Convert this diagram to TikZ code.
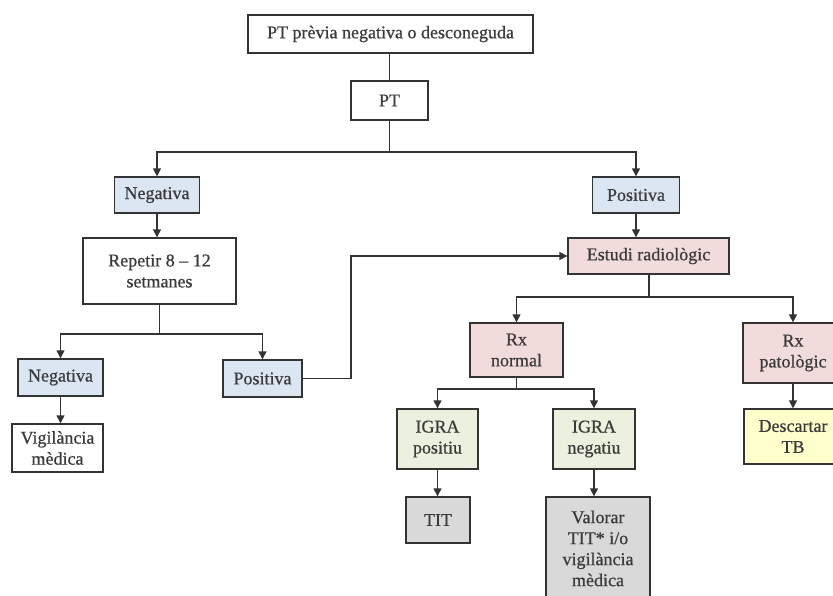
\documentclass[tikz,border=0pt]{standalone}
\usepackage{fontspec}
\setmainfont{Liberation Serif}
\newfontfamily\boxfont{Liberation Serif}[FakeBold=0.6]
\usetikzlibrary{arrows.meta}
\definecolor{cblue}{HTML}{DCE6F2}
\definecolor{cpink}{HTML}{F2DCDB}
\definecolor{cgreen}{HTML}{EBF1DE}
\definecolor{cyellow}{HTML}{FFFFCC}
\definecolor{cgrey}{HTML}{D9D9D9}
\definecolor{lc}{HTML}{333333}
\definecolor{tc}{HTML}{3A3A3A}
\begin{document}
\begin{tikzpicture}[x=1pt,y=-1pt,
  box/.style={draw=lc, line width=1.4pt, align=center, inner sep=0pt, fill=white,
    font=\boxfont\fontsize{18}{21}\selectfont, text=tc},
  arr/.style={-{Triangle[length=8pt,width=8pt]}, line width=1.4pt, draw=lc},
  ln/.style={line width=1.4pt, draw=lc}]
\useasboundingbox (0,0) rectangle (833,595);
\clip (0,0) rectangle (833,595);
% nodes
\node[box, minimum width=285pt, minimum height=38pt] (top) at (390.5,34) {PT prèvia negativa o desconeguda};
\node[box, minimum width=77pt, minimum height=39pt] (pt) at (389.5,100.5) {PT};
\node[box, fill=cblue, minimum width=85pt, minimum height=36pt] (neg1) at (157,195) {Negativa};
\node[box, fill=cblue, minimum width=87pt, minimum height=36pt] (pos1) at (636,195) {Positiva};
\node[box, minimum width=153pt, minimum height=66pt] (rep) at (159.5,271) {Repetir 8 – 12\\setmanes};
\node[box, fill=cpink, minimum width=161pt, minimum height=36pt] (est) at (648.5,256) {Estudi radiològic};
\node[box, fill=cblue, minimum width=85pt, minimum height=37pt] (neg2) at (60.5,377.5) {Negativa};
\node[box, fill=cblue, minimum width=79pt, minimum height=37pt] (pos2) at (262.5,378.5) {Positiva};
\node[box, minimum width=91pt, minimum height=48pt] (vig) at (57.5,448) {Vigilància\\mèdica};
\node[box, fill=cpink, minimum width=93pt, minimum height=54pt] (rxn) at (516.5,350) {Rx\\normal};
\node[box, fill=cpink, minimum width=100pt, minimum height=60pt] (rxp) at (793,353) {Rx\\patològic};
\node[box, fill=cgreen, minimum width=81pt, minimum height=60pt] (igp) at (437.5,439) {IGRA\\positiu};
\node[box, fill=cgreen, minimum width=82pt, minimum height=60pt] (ign) at (594,439) {IGRA\\negatiu};
\node[box, fill=cgrey, minimum width=64pt, minimum height=46pt] (tit) at (438,520) {TIT};
\node[box, fill=cgrey, minimum width=104pt, minimum height=103pt] (val) at (598,548.5) {Valorar\\TIT* i/o\\vigilància\\mèdica};
\node[box, fill=cyellow, minimum width=98pt, minimum height=55pt] (desc) at (793,436.5) {Descartar\\TB};
% junctions
\coordinate (j1) at (389.5,152);
\coordinate (j2) at (159.5,334);
\coordinate (j3) at (649,297);
\coordinate (j4) at (516.5,389);
\coordinate (k1) at (351,378.5);
% connectors
\draw[ln] (pt.north) -- (pt.north |- top.south);
\draw[ln] (pt.south) -- (j1);
\draw[arr] (j1) -| (neg1.north);
\draw[arr] (j1) -| (pos1.north);
\draw[arr] (neg1.south) -- (neg1.south |- rep.north);
\draw[arr] (pos1.south) -- (pos1.south |- est.north);
\draw[ln] (rep.south) -- (j2);
\draw[arr] (j2) -| (neg2.north);
\draw[arr] (j2) -| (pos2.north);
\draw[arr] (neg2.south) -- (neg2.south |- vig.north);
\draw[ln] (pos2.east) -- (k1);
\draw[arr] (k1) |- (est.west);
\draw[ln] (j3 |- est.south) -- (j3);
\draw[arr] (j3) -| (rxn.north);
\draw[arr] (j3) -| (rxp.north);
\draw[arr] (rxp.south) -- (desc.north);
\draw[ln] (rxn.south) -- (j4);
\draw[arr] (j4) -| (igp.north);
\draw[arr] (j4) -| (ign.north);
\draw[arr] (igp.south) -- (igp.south |- tit.north);
\draw[arr] (ign.south) -- (ign.south |- val.north);
\end{tikzpicture}
\end{document}
